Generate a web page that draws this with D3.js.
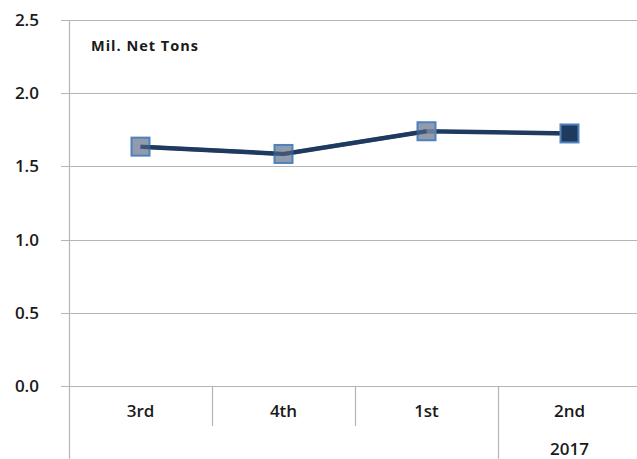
<!DOCTYPE html>
<html>
<head>
<meta charset="utf-8">
<script src="https://cdn.jsdelivr.net/npm/d3@7"></script>
<style>
  body { margin: 0; background: #fff; }
  text { font-family: "Open Sans", "Liberation Sans", sans-serif; fill: #1a1a1a; }
</style>
</head>
<body>
<div id="chart"></div>
<script>
// Data
var quarters = ["3rd", "4th", "1st", "2nd"];
var tons = [1.635, 1.585, 1.74, 1.725];
var yearLabels = [{quarter: "2nd", label: "2017"}];
var yTicks = [0, 0.5, 1.0, 1.5, 2.0, 2.5];

var W = 637, H = 459;
var plotLeft = 69, plotTop = 20, plotRight = 641, plotBottom = 386;

var svg = d3.select("#chart").append("svg")
    .attr("width", W)
    .attr("height", H);

var x = d3.scaleBand()
    .domain(quarters)
    .range([plotLeft, plotRight]);

var y = d3.scaleLinear()
    .domain([0, 2.5])
    .range([plotBottom, plotTop]);

// gridlines
svg.append("g").selectAll("line")
    .data(yTicks)
  .enter().append("line")
    .attr("x1", 61).attr("x2", W)
    .attr("y1", function(d) { return Math.round(y(d)) + 0.5; })
    .attr("y2", function(d) { return Math.round(y(d)) + 0.5; })
    .attr("stroke", "#b5b5b5")
    .attr("stroke-width", 1.2);

// y tick labels
svg.append("g").selectAll("text")
    .data(yTicks)
  .enter().append("text")
    .attr("x", 39)
    .attr("y", function(d) { return y(d) + 6; })
    .attr("text-anchor", "end")
    .style("font-size", "17px")
    .style("font-weight", 600)
    .text(function(d) { return d.toFixed(1); });

// left axis line
svg.append("line")
    .attr("x1", plotLeft + 0.5).attr("x2", plotLeft + 0.5)
    .attr("y1", plotTop).attr("y2", H)
    .attr("stroke", "#b5b5b5").attr("stroke-width", 1.2);

// category separators
quarters.forEach(function(q, i) {
  if (i == 0) return;
  var xx = Math.round(x(q)) + 0.5;
  svg.append("line")
      .attr("x1", xx).attr("x2", xx)
      .attr("y1", plotBottom)
      .attr("y2", q == "2nd" ? H : 426)
      .attr("stroke", "#b5b5b5").attr("stroke-width", 1.2);
});

// category labels
svg.append("g").selectAll("text")
    .data(quarters)
  .enter().append("text")
    .attr("x", function(d) { return x(d) + x.bandwidth() / 2; })
    .attr("y", 417)
    .attr("text-anchor", "middle")
    .style("font-size", "17px")
    .style("font-weight", 600)
    .text(function(d) { return d; });

svg.append("g").selectAll("text")
    .data(yearLabels)
  .enter().append("text")
    .attr("x", function(d) { return x(d.quarter) + x.bandwidth() / 2; })
    .attr("y", 455)
    .attr("text-anchor", "middle")
    .style("font-size", "17px")
    .style("font-weight", 600)
    .text(function(d) { return d.label; });

// unit label
svg.append("text")
    .attr("x", 91).attr("y", 51)
    .style("font-size", "14.5px")
    .style("font-weight", "bold")
    .style("letter-spacing", "1px")
    .text("Mil. Net Tons");

// line
var line = d3.line()
    .x(function(d, i) { return x(quarters[i]) + x.bandwidth() / 2; })
    .y(function(d) { return y(d); });

svg.append("path")
    .datum(tons)
    .attr("d", line)
    .attr("fill", "none")
    .attr("stroke", "#1f3a5f")
    .attr("stroke-width", 4.5);

// markers
var s = 18;
svg.append("g").selectAll("rect")
    .data(tons)
  .enter().append("rect")
    .attr("x", function(d, i) { return x(quarters[i]) + x.bandwidth() / 2 - s / 2; })
    .attr("y", function(d) { return y(d) - s / 2; })
    .attr("width", s).attr("height", s)
    .attr("fill", function(d, i) { return i == quarters.length - 1 ? "#1f3a5f" : "#7d8aa0"; })
    .attr("fill-opacity", function(d, i) { return i == quarters.length - 1 ? 1 : 0.85; })
    .attr("stroke", "#4f81bd")
    .attr("stroke-width", 2);

// line shows faintly through the gray markers
svg.append("path")
    .datum(tons.slice(0, 3))
    .attr("d", line)
    .attr("fill", "none")
    .attr("stroke", "#1f3a5f")
    .attr("stroke-opacity", 0.6)
    .attr("stroke-width", 4);
</script>
</body>
</html>
